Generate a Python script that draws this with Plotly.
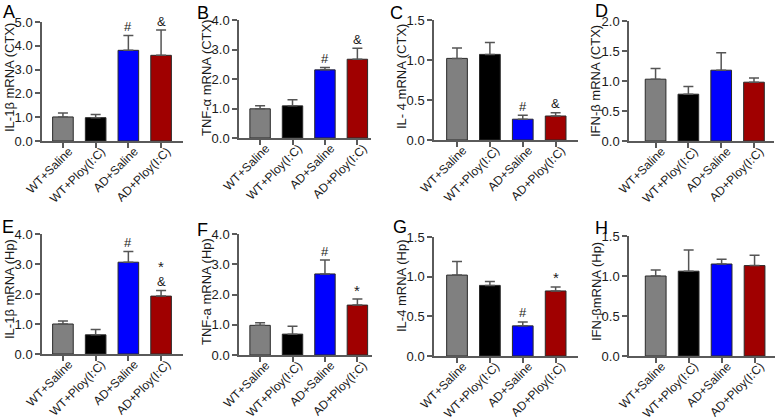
import plotly.graph_objects as go

# ---------------- data ----------------
categories = ["WT+Saline", "WT+Ploy(I:C)", "AD+Saline", "AD+Ploy(I:C)"]

il1b_ctx_mean = [1.01, 0.98, 3.81, 3.60]
il1b_ctx_err = [0.17, 0.13, 0.62, 1.06]
il1b_ctx_sig = [[], [], ["#"], ["&"]]

tnfa_ctx_mean = [0.99, 1.09, 2.31, 2.67]
tnfa_ctx_err = [0.10, 0.21, 0.08, 0.37]
tnfa_ctx_sig = [[], [], ["#"], ["&"]]

il4_ctx_mean = [1.02, 1.07, 0.26, 0.30]
il4_ctx_err = [0.13, 0.15, 0.05, 0.04]
il4_ctx_sig = [[], [], ["#"], ["&"]]

ifnb_ctx_mean = [1.03, 0.78, 1.18, 0.98]
ifnb_ctx_err = [0.18, 0.13, 0.29, 0.07]
ifnb_ctx_sig = [[], [], [], []]

il1b_hp_mean = [1.00, 0.64, 3.06, 1.93]
il1b_hp_err = [0.10, 0.18, 0.36, 0.19]
il1b_hp_sig = [[], [], ["#"], ["&", "*"]]

tnfa_hp_mean = [0.98, 0.69, 2.68, 1.65]
tnfa_hp_err = [0.09, 0.26, 0.46, 0.20]
tnfa_hp_sig = [[], [], ["#"], ["*"]]

il4_hp_mean = [1.02, 0.89, 0.38, 0.82]
il4_hp_err = [0.17, 0.05, 0.05, 0.05]
il4_hp_sig = [[], [], ["#"], ["*"]]

ifnb_hp_mean = [1.00, 1.06, 1.15, 1.13]
ifnb_hp_err = [0.075, 0.265, 0.06, 0.13]
ifnb_hp_sig = [[], [], [], []]

panel_letters = ["A", "B", "C", "D", "E", "F", "G", "H"]
y_titles = ["IL-1β mRNA (CTX)", "TNF-α mRNA (CTX)", "IL- 4 mRNA (CTX)", "IFN-β mRNA (CTX)",
            "IL-1β mRNA (Hp)", "TNF-a mRNA (Hp)", "IL-4 mRNA (Hp)", "IFN-βmRNA (Hp)"]
y_max = [5.0, 4.0, 1.5, 2.0, 4.0, 4.0, 1.5, 1.5]
y_step = [1.0, 1.0, 0.5, 0.5, 1.0, 1.0, 0.5, 0.5]

means = [il1b_ctx_mean, tnfa_ctx_mean, il4_ctx_mean, ifnb_ctx_mean,
         il1b_hp_mean, tnfa_hp_mean, il4_hp_mean, ifnb_hp_mean]
errs = [il1b_ctx_err, tnfa_ctx_err, il4_ctx_err, ifnb_ctx_err,
        il1b_hp_err, tnfa_hp_err, il4_hp_err, ifnb_hp_err]
sigs = [il1b_ctx_sig, tnfa_ctx_sig, il4_ctx_sig, ifnb_ctx_sig,
        il1b_hp_sig, tnfa_hp_sig, il4_hp_sig, ifnb_hp_sig]

# ---------------- layout geometry (pixels) ----------------
W, H = 777, 420
bar_colors = ["#808080", "#000000", "#0000ff", "#a00000"]
axis_color = "#5a5a5a"
FONT = "Liberation Sans, Arial, Helvetica, sans-serif"

# x start/end of axis, y top/bottom (pixels), x range
geom = [
    (42, 183, 22, 141, [-0.64, 3.67]),
    (239, 371, 20, 138, [-0.65, 3.42]),
    (434, 578, 20, 140, [-0.70, 3.68]),
    (629, 774, 21, 141, [-0.81, 3.61]),
    (42, 183, 234, 354, [-0.64, 3.67]),
    (239, 372, 234, 355, [-0.65, 3.45]),
    (434, 578, 237, 356, [-0.70, 3.68]),
    (629, 775, 236, 356, [-0.81, 3.62]),
]
title_cy = [78, 78, 77, 81, 289, 292, 286, 292]
letter_pos = [(2, 1), (196, 2), (389, 2), (594, 0), (1, 216), (196, 219), (392, 216), (594, 217)]

fig = go.Figure()
annotations = []
layout_axes = {}

for i in range(8):
    x0, x1, yt, yb, xr = geom[i]
    n = "" if i == 0 else str(i + 1)
    xa, ya = "x" + n, "y" + n
    fig.add_trace(go.Bar(
        x=list(range(4)), y=means[i],
        xaxis=xa, yaxis=ya,
        width=0.63,
        marker=dict(color=bar_colors, line=dict(color="#2a2a2a", width=1)),
        error_y=dict(type="data", symmetric=False, array=errs[i], arrayminus=[0, 0, 0, 0],
                     color="#555555", thickness=1.5, width=5),
        showlegend=False, hoverinfo="skip",
    ))
    nt = int(round(y_max[i] / y_step[i]))
    tickvals = [k * y_step[i] for k in range(nt + 1)]
    layout_axes["xaxis" + n] = dict(
        domain=[x0 / W, x1 / W], range=xr, anchor=ya,
        tickmode="array", tickvals=list(range(4)), ticktext=categories,
        tickangle=-45, ticks="outside", ticklen=5, tickwidth=1.5, tickcolor=axis_color,
        ticklabelstandoff=-8, ticklabelshift=6,
        showline=True, linecolor=axis_color, linewidth=1.5,
        showgrid=False, zeroline=False, fixedrange=True, automargin=False,
        tickfont=dict(family=FONT, size=12, color="#1a1a1a"),
    )
    layout_axes["yaxis" + n] = dict(
        domain=[(H - yb) / H, (H - yt) / H], range=[0, y_max[i]], anchor=xa,
        tickmode="array", tickvals=tickvals, ticktext=[f"{v:.1f}" for v in tickvals],
        ticks="outside", ticklen=5, tickwidth=1.5, tickcolor=axis_color,
        showline=True, linecolor=axis_color, linewidth=1.5,
        showgrid=False, zeroline=False, fixedrange=True, automargin=False,
        tickfont=dict(family=FONT, size=13, color="#1a1a1a"),
    )
    # y title
    annotations.append(dict(
        text=y_titles[i], textangle=-90, xref="paper", yref="paper",
        x=(x0 - 33) / W, y=(H - title_cy[i]) / H, xanchor="center", yanchor="middle",
        showarrow=False, borderpad=0, font=dict(family=FONT, size=13, color="#1a1a1a"),
    ))
    # panel letter
    lx, ly = letter_pos[i]
    annotations.append(dict(
        text=panel_letters[i], xref="paper", yref="paper",
        x=lx / W, y=(H - ly) / H, xanchor="left", yanchor="top",
        showarrow=False, borderpad=0, font=dict(family=FONT, size=18, color="#000000"),
    ))
    # significance marks
    for j in range(4):
        for k, s in enumerate(sigs[i][j]):
            annotations.append(dict(
                text=s, xref=xa, yref=ya, x=j, y=means[i][j] + errs[i][j],
                xanchor="center", yanchor="middle", yshift=9 + 15 * k,
                showarrow=False, font=dict(family=FONT, size=13 if s != "*" else 15, color="#1a1a1a"),
            ))

fig.update_layout(
    width=W, height=H, margin=dict(l=0, r=0, t=0, b=0),
    paper_bgcolor="white", plot_bgcolor="white",
    annotations=annotations, bargap=0.3,
    **layout_axes,
)

fig.write_html("out.html", config={"displayModeBar": False},
               post_script="document.body.style.margin='0';document.body.style.overflow='hidden';")
